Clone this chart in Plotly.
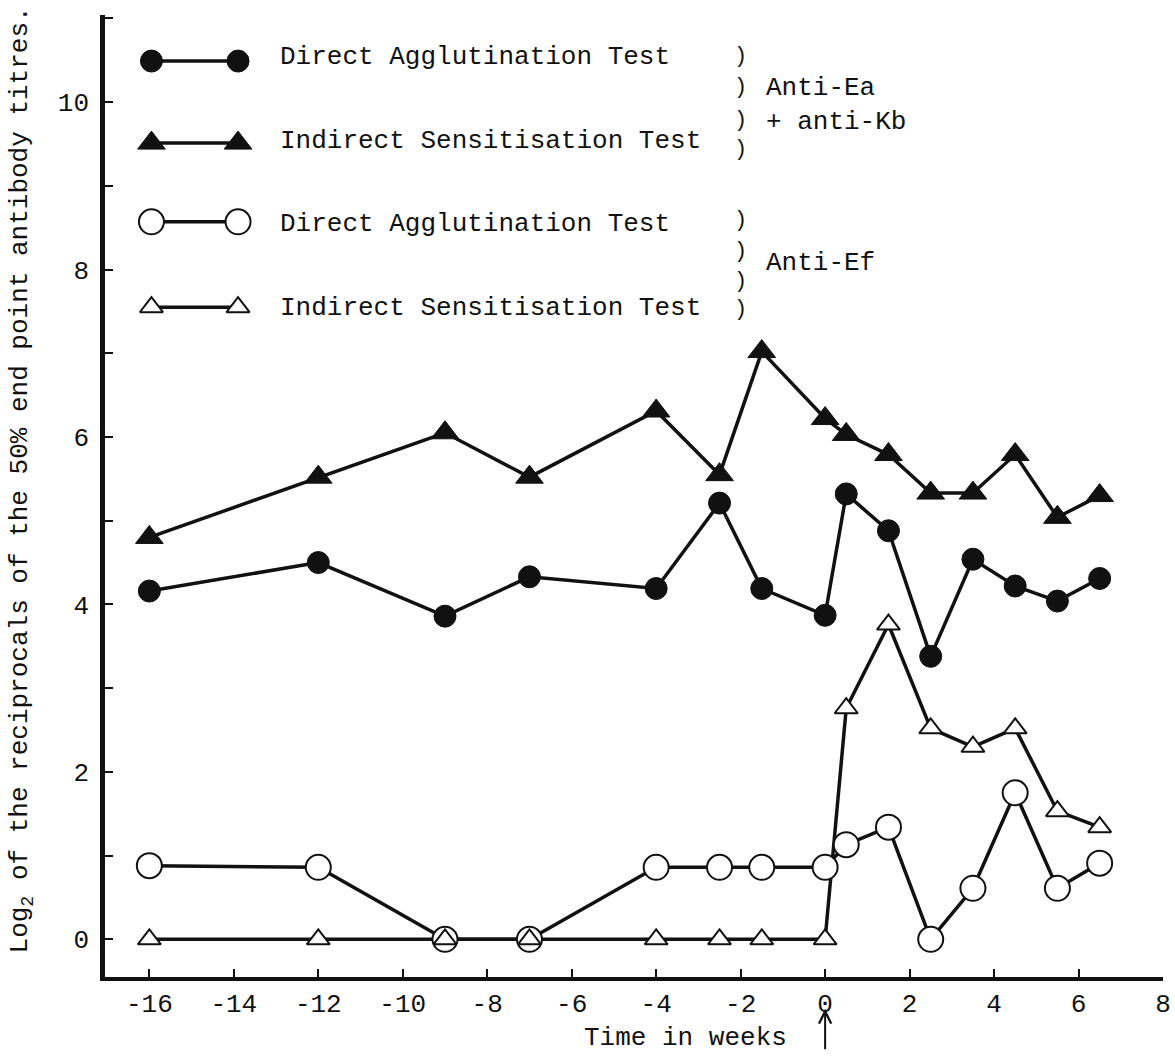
import plotly.graph_objects as go

# Sampling times (weeks relative to the event at week 0)
weeks = [-16, -12, -9, -7, -4, -2.5, -1.5, 0, 0.5, 1.5, 2.5, 3.5, 4.5, 5.5, 6.5]

# Log2 reciprocal 50% end-point titres
anti_ea_kb_direct = [4.16, 4.50, 3.86, 4.33, 4.19, 5.21, 4.19, 3.87, 5.32, 4.88, 3.38, 4.54, 4.22, 4.04, 4.31]
anti_ea_kb_indirect = [4.80, 5.52, 6.05, 5.52, 6.31, 5.55, 7.02, 6.22, 6.03, 5.79, 5.33, 5.33, 5.79, 5.04, 5.30]
anti_ef_direct = [0.88, 0.86, 0.0, 0.0, 0.86, 0.86, 0.86, 0.86, 1.13, 1.34, 0.0, 0.61, 1.75, 0.61, 0.91]
anti_ef_indirect = [0.0, 0.0, 0.0, 0.0, 0.0, 0.0, 0.0, 0.0, 2.76, 3.76, 2.52, 2.30, 2.52, 1.53, 1.34]

x_tick_values = list(range(-16, 9, 2))
x_tick_labels = ["-16", "-14", "-12", "-10", "-8", "-6", "-4", "-2", "0", "2", "4", "6", "8"]
y_tick_values = list(range(0, 12))
y_tick_labels = ["0", "", "2", "", "4", "", "6", "", "8", "", "10", ""]

legend_labels = [
    "Direct Agglutination Test",
    "Indirect Sensitisation Test",
    "Direct Agglutination Test",
    "Indirect Sensitisation Test",
]

FONT = "Liberation Mono, Courier New, monospace"
INK = "#111111"
LINE_W = 3.5

# marker styles
filled_circle = dict(symbol="circle", size=22, color=INK, line=dict(color=INK, width=1))
filled_tri = dict(symbol="triangle-up", size=24, color=INK, line=dict(color=INK, width=1))
open_circle = dict(symbol="circle", size=25, color="white", line=dict(color=INK, width=2))
open_tri = dict(symbol="triangle-up", size=20, color="white", line=dict(color=INK, width=2))

fig = go.Figure()

# filled series (anti-Ea + anti-Kb)
fig.add_trace(go.Scatter(x=weeks, y=anti_ea_kb_indirect, mode="lines+markers",
                         line=dict(color=INK, width=LINE_W), marker=filled_tri, showlegend=False))
fig.add_trace(go.Scatter(x=weeks, y=anti_ea_kb_direct, mode="lines+markers",
                         line=dict(color=INK, width=LINE_W), marker=filled_circle, showlegend=False))

# open series (anti-Ef): triangle line under circles, triangle markers on top
fig.add_trace(go.Scatter(x=weeks, y=anti_ef_indirect, mode="lines",
                         line=dict(color=INK, width=LINE_W), showlegend=False))
fig.add_trace(go.Scatter(x=weeks, y=anti_ef_direct, mode="lines+markers",
                         line=dict(color=INK, width=LINE_W), marker=open_circle, showlegend=False))
fig.add_trace(go.Scatter(x=weeks, y=anti_ef_indirect, mode="markers",
                         marker=open_tri, showlegend=False))

# hand-drawn style key in the upper-left corner
key_x = [-15.95, -13.9]
key_rows = [10.49, 9.51, 8.57, 7.55]
key_styles = [filled_circle, filled_tri, open_circle, open_tri]
for row_y, style in zip(key_rows, key_styles):
    fig.add_trace(go.Scatter(x=key_x, y=[row_y, row_y], mode="lines+markers",
                             line=dict(color=INK, width=LINE_W), marker=style,
                             showlegend=False, hoverinfo="skip"))

text_font = dict(family=FONT, size=26, color=INK)
bracket_font = dict(family=FONT, size=22, color=INK)
annotations = []
label_rows = [10.54, 9.54, 8.54, 7.54]
for row_y, label in zip(label_rows, legend_labels):
    annotations.append(dict(x=-12.95, y=row_y, xref="x", yref="y", text=label,
                            showarrow=False, xanchor="left", yanchor="middle", font=text_font))

bracket_rows = [10.54, 10.17, 9.78, 9.43, 8.59, 8.22, 7.86, 7.52]
for row_y in bracket_rows:
    annotations.append(dict(x=-2.0, y=row_y, xref="x", yref="y", text=")",
                            showarrow=False, xanchor="center", yanchor="middle", font=bracket_font))

group_labels = [("Anti-Ea", 10.17), ("+ anti-Kb", 9.76), ("Anti-Ef", 8.08)]
for label, row_y in group_labels:
    annotations.append(dict(x=-1.45, y=row_y, xref="x", yref="y", text=label,
                            showarrow=False, xanchor="left", yanchor="middle", font=text_font))

# axis titles
annotations.append(dict(x=-0.079, y=0.5166, xref="paper", yref="paper",
                        text="Log<sub>2</sub> of the reciprocals of the 50% end point antibody titres.",
                        textangle=-90, showarrow=False, xanchor="center", yanchor="middle",
                        font=dict(family=FONT, size=26, color=INK)))
annotations.append(dict(x=-3.3, y=-0.063, xref="x", yref="paper", text="Time in weeks",
                        showarrow=False, xanchor="center", yanchor="middle", font=text_font))

# arrow marking week 0
annotations.append(dict(x=0, y=-0.033, xref="x", yref="paper", text="", showarrow=True,
                        ax=0, ay=42, arrowhead=5, arrowsize=1.2, arrowwidth=2, arrowcolor=INK))

fig.update_layout(
    width=1175, height=1061, autosize=False,
    margin=dict(l=105, r=12, t=15, b=84),
    paper_bgcolor="white", plot_bgcolor="white",
    font=dict(family=FONT, size=26, color=INK),
    annotations=annotations,
    xaxis=dict(range=[-17.05, 8.0], showgrid=False, zeroline=False, automargin=False,
               showline=True, linewidth=3.5, linecolor=INK,
               ticks="inside", ticklen=8, tickwidth=2, tickcolor=INK,
               tickvals=x_tick_values, ticktext=x_tick_labels,
               tickfont=dict(family=FONT, size=26, color=INK), ticklabelstandoff=0),
    yaxis=dict(range=[-0.45, 11.04], showgrid=False, zeroline=False, automargin=False,
               showline=True, linewidth=4.5, linecolor=INK,
               ticks="inside", ticklen=8, tickwidth=2, tickcolor=INK,
               tickvals=y_tick_values, ticktext=y_tick_labels,
               tickfont=dict(family=FONT, size=26, color=INK), ticklabelstandoff=6),
)

fig.write_html("out.html")
